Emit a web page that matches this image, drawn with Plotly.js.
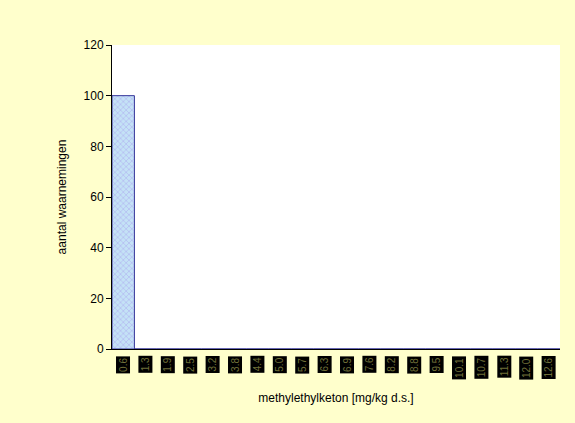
<!DOCTYPE html>
<html>
<head>
<meta charset="utf-8">
<script src="https://cdn.plot.ly/plotly-3.0.1.min.js"></script>
<style>html,body{margin:0;padding:0;background:#FFFFCC;}#chart{width:575px;height:423px;}</style>
</head>
<body>
<div id="chart"></div>
<script>
const categories = ["0.6","1.3","1.9","2.5","3.2","3.8","4.4","5.0","5.7","6.3","6.9","7.6","8.2","8.8","9.5","10.1","10.7","11.3","12.0","12.6"];
const counts = [100,0,0,0,0,0,0,0,0,0,0,0,0,0,0,0,0,0,0,0];
const yTicks = [0,20,40,60,80,100,120];

const trace = {
  type: 'bar',
  x: categories,
  y: counts,
  marker: {
    color: '#C4DDF6',
    line: {color: '#333399', width: 1},
    pattern: {shape: 'x', fgcolor: '#A89CEC', bgcolor: '#C4E2F6', size: 4, solidity: 0.2}
  },
  hoverinfo: 'none'
};

const annotations = categories.map((c, i) => ({
  x: i, xref: 'x', y: -0.022, yref: 'paper', yanchor: 'top', xanchor: 'center',
  text: c, showarrow: false, textangle: -90,
  font: {family: 'Liberation Sans, Arial, sans-serif', size: 10, color: '#6f6f38'},
  bgcolor: '#000000', borderpad: 1
}));

const layout = {
  width: 575, height: 423,
  paper_bgcolor: '#FFFFCC',
  plot_bgcolor: '#FFFFFF',
  margin: {l: 112, r: 15, t: 45, b: 74},
  bargap: 0,
  showlegend: false,
  font: {family: 'Liberation Sans, Arial, sans-serif', size: 12, color: '#000'},
  xaxis: {
    type: 'category',
    showticklabels: false,
    ticks: '',
    showline: true, linecolor: '#000', linewidth: 1,
    showgrid: false, zeroline: false,
    title: {text: 'methylethylketon [mg/kg d.s.]', font: {size: 12}, standoff: 44},
    automargin: false
  },
  yaxis: {
    range: [0, 120],
    tickvals: yTicks,
    ticks: 'outside', ticklen: 5, tickcolor: '#000',
    showline: true, linecolor: '#000', linewidth: 1,
    showgrid: false, zeroline: false,
    tickfont: {size: 12},
    title: {text: 'aantal waarnemingen', font: {size: 12}, standoff: 14},
    automargin: false
  },
  annotations: annotations
};

Plotly.newPlot('chart', [trace], layout, {displayModeBar: false, staticPlot: true});
</script>
</body>
</html>
